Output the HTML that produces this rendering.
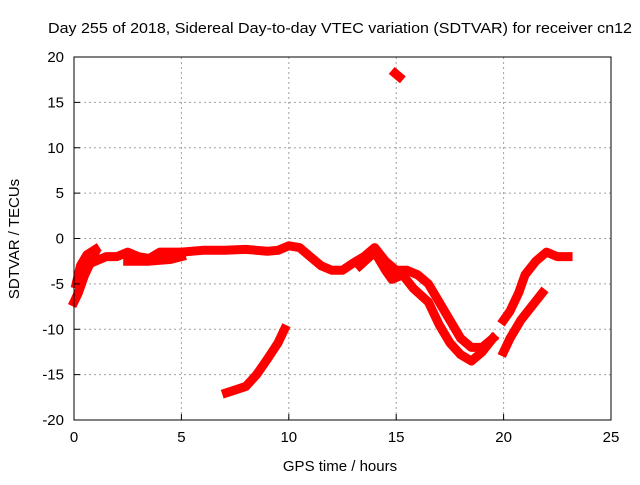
<!DOCTYPE html>
<html><head><meta charset="utf-8"><style>
body{margin:0;background:#fff;font-family:"Liberation Sans",sans-serif}
svg text{font-family:"Liberation Sans",sans-serif;font-size:14px;fill:#000}
</style></head><body>
<svg id="chart" width="640" height="480">
<rect width="640" height="480" fill="#fff"/>
<text x="48" y="33" textLength="584" lengthAdjust="spacingAndGlyphs" style="font-size:15px">Day 255 of 2018, Sidereal Day-to-day VTEC variation (SDTVAR) for receiver cn12</text>
<g id="grid"></g><g id="series"></g><g id="axes"></g>
<text x="340" y="471" text-anchor="middle" style="font-size:15px">GPS time / hours</text>
<text transform="translate(19,239) rotate(-90)" text-anchor="middle" style="font-size:15px">SDTVAR / TECUs</text>
</svg>
<script>
const xTicks=[0,5,10,15,20,25];
const yTicks=[20,15,10,5,0,-5,-10,-15,-20];
const trace1=[[0.0,-7],[0.2,-6],[0.5,-4],[0.8,-2.5],[1.0,-1.5]];
const trace2=[[0.1,-5],[0.3,-3],[0.6,-1.8],[1.0,-1.2]];
const trace3=[[1.0,-2.5],[1.5,-2],[2,-2],[2.5,-1.5],[3,-2],[3.5,-2.2],[4,-1.5],[5,-1.5],[6,-1.3],[7,-1.3],[8,-1.2],[9,-1.4],[9.5,-1.3],[10,-0.8],[10.5,-1],[11,-2],[11.5,-3],[12,-3.5],[12.5,-3.5],[13,-2.7],[13.5,-2],[14,-1],[14.5,-2.5],[15,-3.5],[15.5,-3.5],[16,-4],[16.5,-5],[17,-7],[17.5,-9],[18,-11],[18.5,-12],[19,-12],[19.5,-11]];
const trace4=[[13.3,-3],[14,-1.5],[14.5,-3.5],[14.8,-4.5],[15.3,-4],[15.8,-5.5],[16.5,-7],[17,-9.5],[17.5,-11.5],[18,-12.8],[18.5,-13.5],[19,-12.5],[19.5,-11]];
const trace5=[[2.5,-2.5],[3.5,-2.5],[4.5,-2.3],[5,-2]];
const trace6=[[7.1,-17],[8,-16.3],[8.5,-15],[9,-13.3],[9.5,-11.5],[9.8,-10]];
const trace7=[[20,-12.5],[20.3,-11],[20.8,-9],[21.3,-7.5],[21.8,-6]];
const trace8=[[20,-9],[20.3,-8],[20.7,-6],[21,-4],[21.5,-2.5],[22,-1.5],[22.5,-2],[23,-2]];
const trace9=[[14.95,18.2],[15.15,17.8]];
const traces=[trace1,trace2,trace3,trace4,trace5,trace6,trace7,trace8,trace9];
const X0=74,X1=611,Y0=420,Y1=57;
const sx=h=>X0+(h-0)/(25-0)*(X1-X0);
const sy=v=>Y0-(v+20)/40*(Y0-Y1);
const NS="http://www.w3.org/2000/svg";
function mk(tag,attrs,parent){const e=document.createElementNS(NS,tag);for(const k in attrs)e.setAttribute(k,attrs[k]);parent.appendChild(e);return e;}
const grid=document.getElementById('grid'),axes=document.getElementById('axes'),ser=document.getElementById('series');
xTicks.forEach(t=>{const x=sx(t);
 if(t>0&&t<25){const l=mk('line',{x1:x,x2:x,y1:Y1,y2:Y0,stroke:'#a0a0a0','stroke-dasharray':'2,3'},grid);
 }
 const tk=mk('line',{x1:x,x2:x,y1:Y0,y2:Y0-6,stroke:'#000'},axes);
 
 const tx=mk('text',{x:x,y:Y0+22,'text-anchor':'middle',style:'font-size:15px'},axes);tx.textContent=t;
 });
yTicks.forEach(t=>{const y=sy(t);
 if(t>-20&&t<20){const l=mk('line',{x1:X0,x2:X1,y1:y,y2:y,stroke:'#a0a0a0','stroke-dasharray':'2,3'},grid);
 }
 const tk=mk('line',{x1:X0,x2:X0+6,y1:y,y2:y,stroke:'#000'},axes);
 
 const tx=mk('text',{x:X0-10,y:y+5,'text-anchor':'end',style:'font-size:15px'},axes);tx.textContent=t;
 });
const fr=mk('rect',{x:X0,y:Y1,width:X1-X0,height:Y0-Y1,fill:'none',stroke:'#000'},axes);

traces.forEach(tr=>{
 const p=mk('polyline',{points:tr.map(d=>sx(d[0])+','+sy(d[1])).join(' '),fill:'none',stroke:'#ff0000','stroke-width':9,'stroke-linejoin':'round','stroke-linecap':'square'},ser);
 });
</script>
</body></html>
